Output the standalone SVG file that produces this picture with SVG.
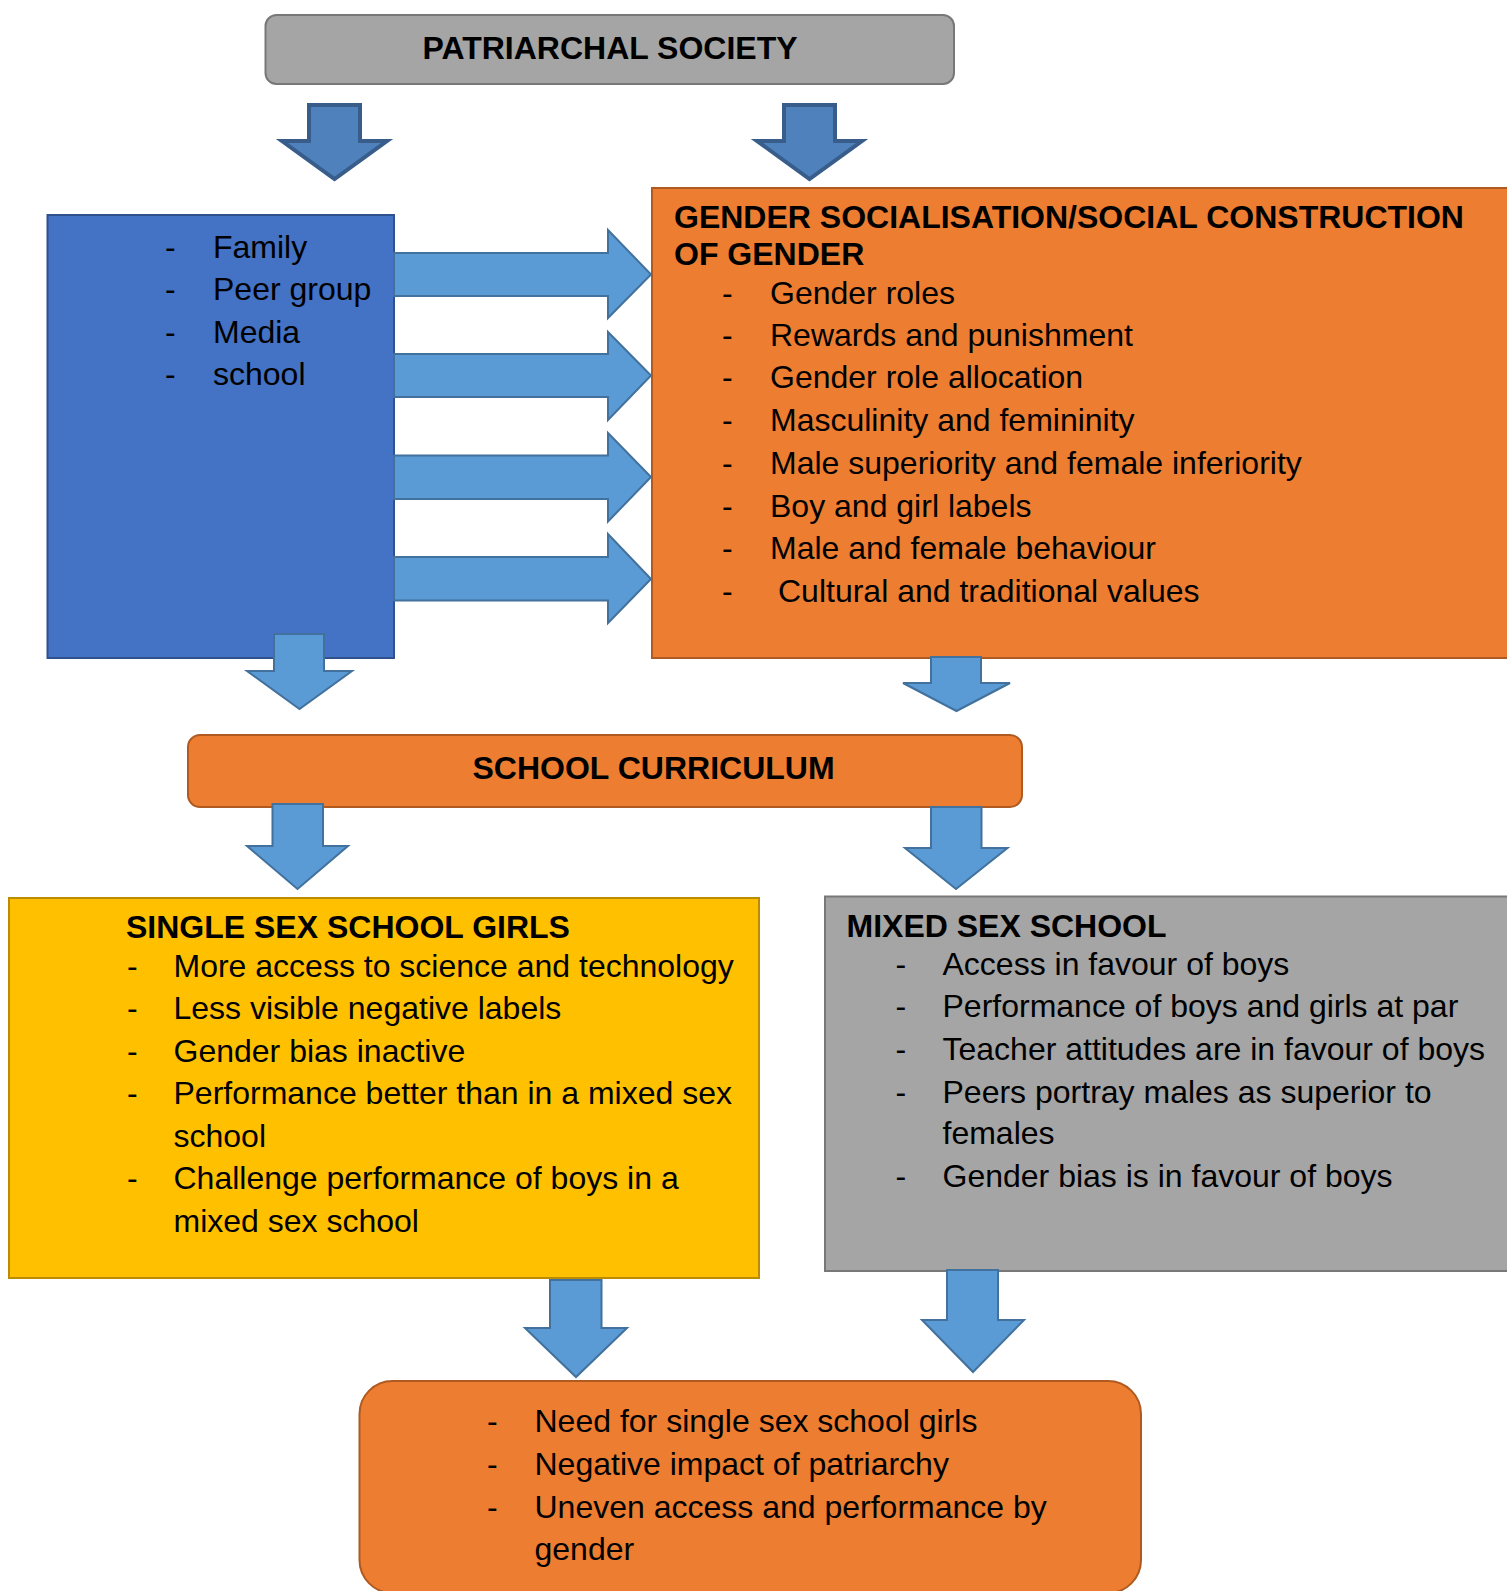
<svg xmlns="http://www.w3.org/2000/svg" width="1507" height="1591" viewBox="0 0 1507 1591">
<style>
text{font-family:"Liberation Sans",Arial,sans-serif;font-size:32px;fill:#000}
.b{font-weight:bold}
.gray{fill:#a5a5a5;stroke:#787878;stroke-width:2}
.blue{fill:#4472c4;stroke:#2f528f;stroke-width:2}
.orange{fill:#ed7d31;stroke:#ae5a21;stroke-width:2}
.yellow{fill:#ffc000;stroke:#bc8c00;stroke-width:2}
.darr{fill:#4f81bd;stroke:#385d8a;stroke-width:4;stroke-linejoin:miter}
.larr{fill:#5b9bd5;stroke:#41719c;stroke-width:2;stroke-linejoin:miter}
</style>
<rect width="1507" height="1591" fill="#fff"/>
<g id="patriarchal">
<rect class="gray" x="265.5" y="15" width="688.5" height="69" rx="11"/>
<text class="b" x="610" y="59" text-anchor="middle">PATRIARCHAL SOCIETY</text>
</g>
<g id="agents">
<rect class="blue" x="47.5" y="215" width="346.5" height="443"/>
<text x="165" y="258">-</text><text x="213" y="258">Family</text>
<text x="165" y="300">-</text><text x="213" y="300">Peer group</text>
<text x="165" y="343">-</text><text x="213" y="343">Media</text>
<text x="165" y="385">-</text><text x="213" y="385">school</text>
</g>
<g id="socialisation">
<rect class="orange" x="652" y="188" width="870" height="470"/>
<text class="b" x="674" y="228">GENDER SOCIALISATION/SOCIAL CONSTRUCTION</text>
<text class="b" x="674" y="265">OF GENDER</text>
<text x="722" y="304">-</text><text x="770" y="304">Gender roles</text>
<text x="722" y="346">-</text><text x="770" y="346">Rewards and punishment</text>
<text x="722" y="388">-</text><text x="770" y="388">Gender role allocation</text>
<text x="722" y="431">-</text><text x="770" y="431">Masculinity and femininity</text>
<text x="722" y="474">-</text><text x="770" y="474">Male superiority and female inferiority</text>
<text x="722" y="517">-</text><text x="770" y="517">Boy and girl labels</text>
<text x="722" y="559">-</text><text x="770" y="559">Male and female behaviour</text>
<text x="722" y="602">-</text><text x="778" y="602">Cultural and traditional values</text>
</g>
<g id="curriculum">
<rect class="orange" x="188" y="735" width="834" height="72" rx="12"/>
<text class="b" x="472.5" y="779">SCHOOL CURRICULUM</text>
</g>
<g id="single-sex">
<rect class="yellow" x="9" y="898" width="750" height="380"/>
<text class="b" x="126" y="938">SINGLE SEX SCHOOL GIRLS</text>
<text x="127" y="977">-</text><text x="173.5" y="977">More access to science and technology</text>
<text x="127" y="1019">-</text><text x="173.5" y="1019">Less visible negative labels</text>
<text x="127" y="1062">-</text><text x="173.5" y="1062">Gender bias inactive</text>
<text x="127" y="1104">-</text><text x="173.5" y="1104">Performance better than in a mixed sex</text>
<text x="173.5" y="1147">school</text>
<text x="127" y="1189">-</text><text x="173.5" y="1189">Challenge performance of boys in a</text>
<text x="173.5" y="1232">mixed sex school</text>
</g>
<g id="mixed-sex">
<rect class="gray" x="825" y="896.5" width="700" height="374.5"/>
<text class="b" x="846.5" y="937">MIXED SEX SCHOOL</text>
<text x="895.5" y="975">-</text><text x="942.5" y="975">Access in favour of boys</text>
<text x="895.5" y="1017">-</text><text x="942.5" y="1017">Performance of boys and girls at par</text>
<text x="895.5" y="1060">-</text><text x="942.5" y="1060">Teacher attitudes are in favour of boys</text>
<text x="895.5" y="1103">-</text><text x="942.5" y="1103">Peers portray males as superior to</text>
<text x="942.5" y="1144">females</text>
<text x="895.5" y="1187">-</text><text x="942.5" y="1187">Gender bias is in favour of boys</text>
</g>
<g id="outcomes">
<rect class="orange" x="359.5" y="1381" width="781.5" height="212" rx="33"/>
<text x="487" y="1432">-</text><text x="534.5" y="1432">Need for single sex school girls</text>
<text x="487" y="1475">-</text><text x="534.5" y="1475">Negative impact of patriarchy</text>
<text x="487" y="1518">-</text><text x="534.5" y="1518">Uneven access and performance by</text>
<text x="534.5" y="1560">gender</text>
</g>
<g id="connectors">
<polygon class="darr" points="309,105 360,105 360,141 387,141 334.5,179 282,141 309,141"/>
<polygon class="darr" points="784,105 835,105 835,141 862,141 809.5,179 757,141 784,141"/>
<polygon class="larr" points="394,253 608,253 608,230 651,274.5 608,318 608,296 394,296"/>
<polygon class="larr" points="394,354 608,354 608,332 651,375.5 608,420 608,397 394,397"/>
<polygon class="larr" points="394,455.5 608,455.5 608,433 651,477 608,521.5 608,499 394,499"/>
<polygon class="larr" points="394,557 608,557 608,534 651,579 608,623 608,600.5 394,600.5"/>
<polygon class="larr" points="274,634 324,634 324,671 352,671 299.5,709 247,671 274,671"/>
<polygon class="larr" points="931,657 981,657 981,683 1010,683 956.5,711 903,683 931,683"/>
<polygon class="larr" points="272.5,804 323,804 323,846 348,846 297.5,889 247,846 272.5,846"/>
<polygon class="larr" points="931,807 981.5,807 981.5,848 1007.5,848 956,889 905,848 931,848"/>
<polygon class="larr" points="550,1280 601.5,1280 601.5,1328 627,1328 576,1377 525,1328 550,1328"/>
<polygon class="larr" points="947,1270 998,1270 998,1320 1024,1320 973,1372 922,1320 947,1320"/>
</g>
</svg>
